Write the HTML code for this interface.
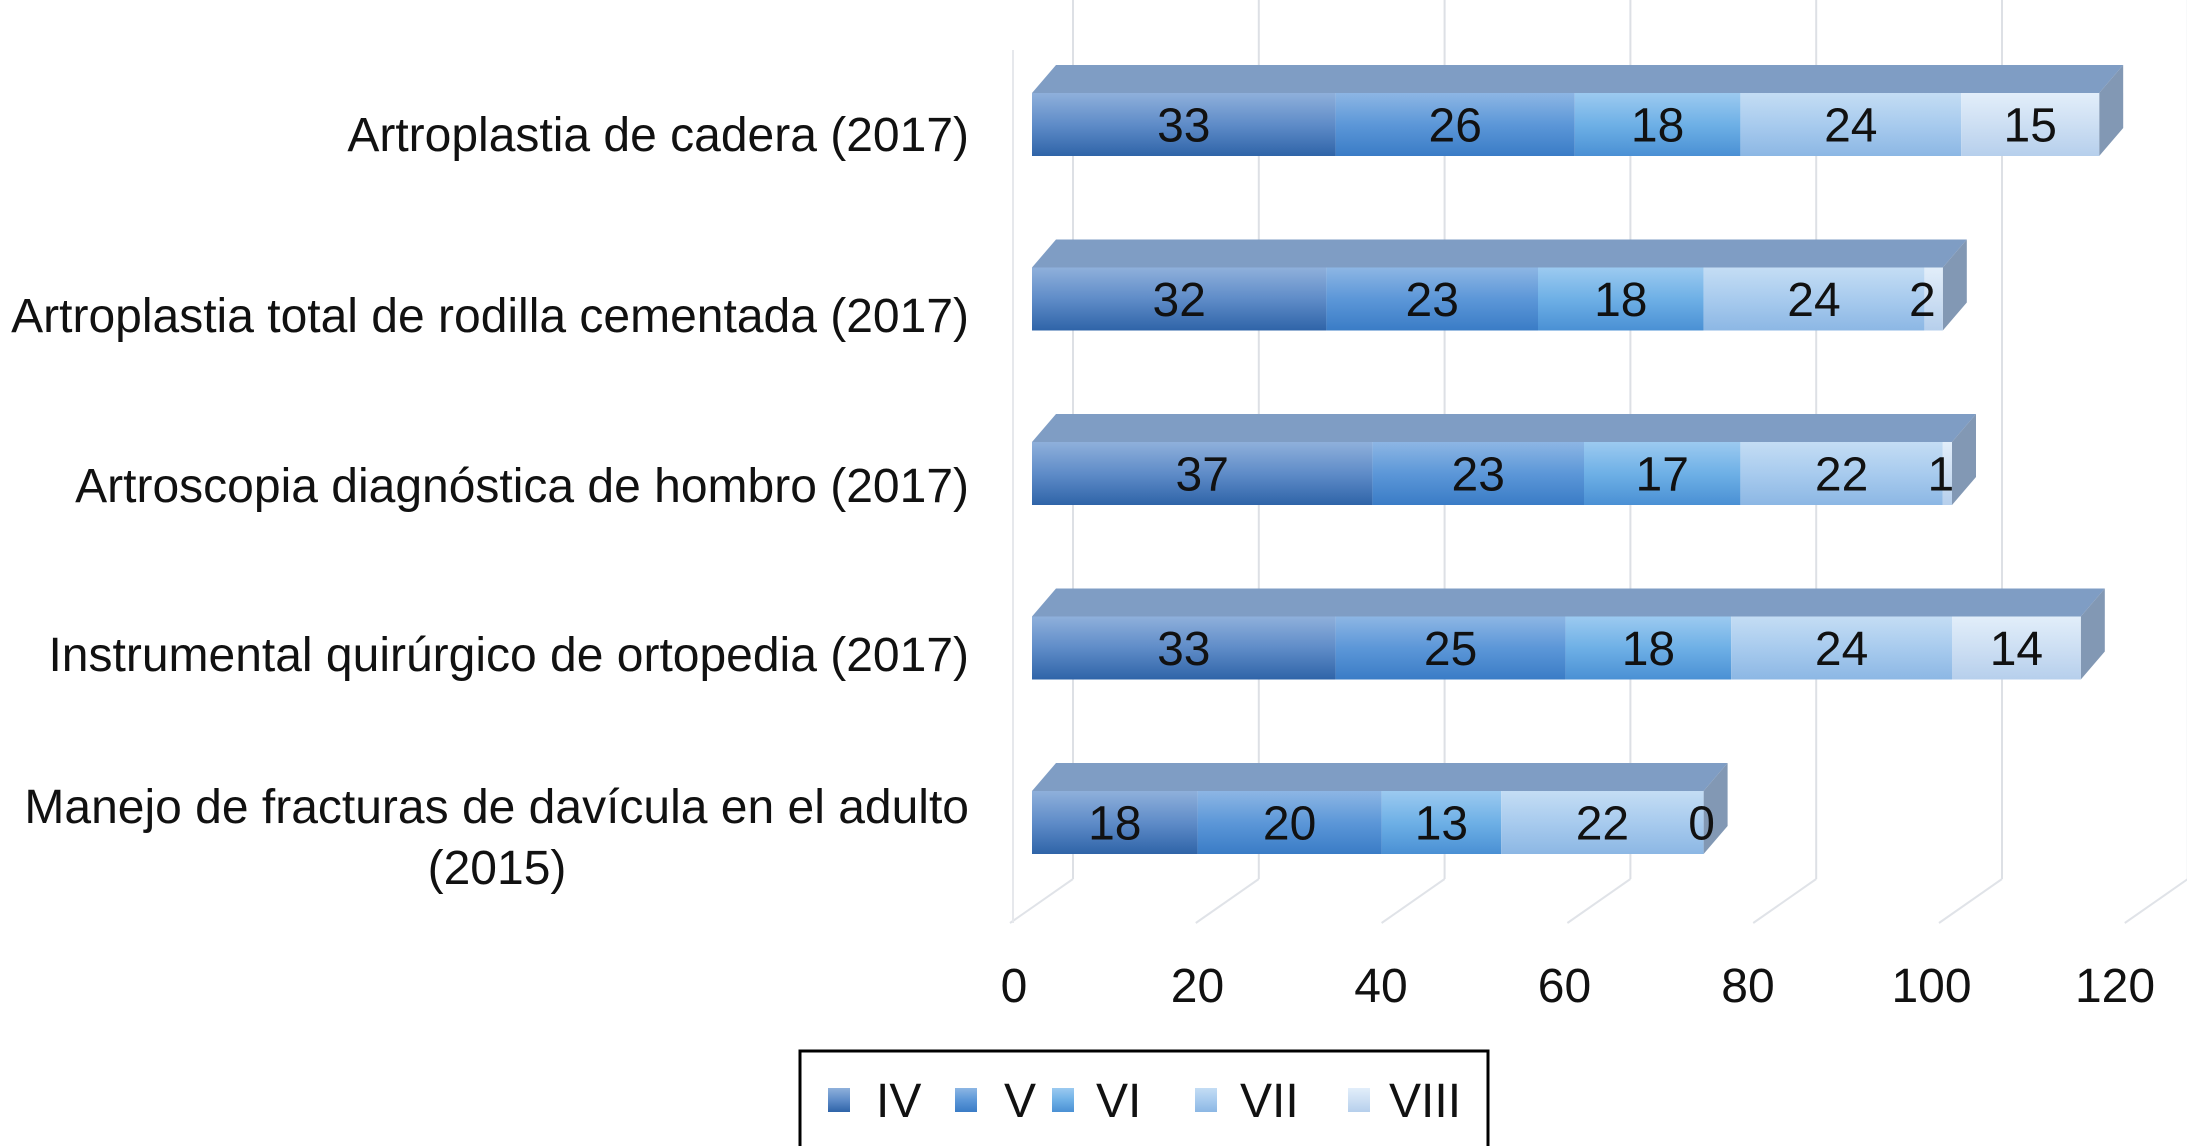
<!DOCTYPE html>
<html><head><meta charset="utf-8">
<style>
html,body{margin:0;padding:0;background:#fff;}
svg{display:block;font-family:"Liberation Sans",Arial,sans-serif;}
</style></head>
<body>
<svg id="chart" width="2187" height="1146" viewBox="0 0 2187 1146">
<defs>
<linearGradient id="g0" x1="0" y1="0" x2="0" y2="1"><stop offset="0" stop-color="#8fb0db"/><stop offset="0.5" stop-color="#5f8cc8"/><stop offset="1" stop-color="#2f64a8"/></linearGradient>
<linearGradient id="g1" x1="0" y1="0" x2="0" y2="1"><stop offset="0" stop-color="#8db6e4"/><stop offset="0.5" stop-color="#5c97d8"/><stop offset="1" stop-color="#3a7cc6"/></linearGradient>
<linearGradient id="g2" x1="0" y1="0" x2="0" y2="1"><stop offset="0" stop-color="#9ccaf0"/><stop offset="0.5" stop-color="#6eb0e6"/><stop offset="1" stop-color="#4a90d4"/></linearGradient>
<linearGradient id="g3" x1="0" y1="0" x2="0" y2="1"><stop offset="0" stop-color="#c4ddf4"/><stop offset="0.5" stop-color="#a8cbee"/><stop offset="1" stop-color="#8cb7e4"/></linearGradient>
<linearGradient id="g4" x1="0" y1="0" x2="0" y2="1"><stop offset="0" stop-color="#e2eefa"/><stop offset="0.5" stop-color="#cddff3"/><stop offset="1" stop-color="#b6cfec"/></linearGradient>
</defs>
<g id="grid"></g>
<g id="bars"></g>
<g id="cats"></g>
<g id="ticks"></g>
<g>
<rect x="800" y="1051" width="688" height="110" fill="#fff" stroke="#000" stroke-width="3"/>
<g id="legend"></g>
</g>
</svg>
<script>
const categories = [
 ["Artroplastia de cadera (2017)"],
 ["Artroplastia total de rodilla cementada (2017)"],
 ["Artroscopia diagnóstica de hombro (2017)"],
 ["Instrumental quirúrgico de ortopedia (2017)"],
 ["Manejo de fracturas de davícula en el adulto","(2015)"]
];
const seriesNames = ["IV","V","VI","VII","VIII"];
const sIV   = [33,32,37,33,18];
const sV    = [26,23,23,25,20];
const sVI   = [18,18,17,18,13];
const sVII  = [24,24,22,24,22];
const sVIII = [15,2,1,14,0];
const tickValues = [0,20,40,60,80,100,120];

const series=[sIV,sV,sVI,sVII,sVIII];
const NS="http://www.w3.org/2000/svg";
function mk(tag,attrs,parent){const e=document.createElementNS(NS,tag);for(const k in attrs)e.setAttribute(k,attrs[k]);parent.appendChild(e);return e;}
const X0=1032, UNIT=9.2, DX=24, DY=28, BH=63, FS=48;
function xs(v){return X0+v*UNIT;}
function yTop(i){return 93+i*174.5;}
function gx(v){return 1073+v*9.29;}
function tx(v){return 1014+v*9.175;}

const grid=document.getElementById('grid');
tickValues.forEach(v=>{
 const l=mk('line',{x1:gx(v),y1:0,x2:gx(v),y2:879,stroke:'#dde0e5','stroke-width':2},grid);
 
 
 const d=mk('line',{x1:gx(v),y1:879,x2:gx(v)-63,y2:923,stroke:'#e0e3e8','stroke-width':2},grid);
 
 
});
const wall=mk('line',{x1:1013,y1:50,x2:1013,y2:923,stroke:'#e6e8ec','stroke-width':2},grid);



const bars=document.getElementById('bars');
categories.forEach((c,i)=>{
 const y=yTop(i);
 let cum=0; const total=series.reduce((a,s)=>a+s[i],0);
 const tp=mk('polygon',{points:`${xs(0)},${y} ${xs(0)+DX},${y-DY} ${xs(total)+DX},${y-DY} ${xs(total)},${y}`,fill:'#7f9dc4'},bars);
 
 
 const sd=mk('polygon',{points:`${xs(total)},${y} ${xs(total)+DX},${y-DY} ${xs(total)+DX},${y+BH-DY} ${xs(total)},${y+BH}`,fill:'#8298b4'},bars);
 
 
 series.forEach((s,k)=>{
  const v=s[i];
  const r=mk('rect',{x:xs(cum),y:y,width:Math.max(v*UNIT,0.01),height:BH,fill:`url(#g${k})`},bars);
  
  
  let cx=xs(cum+v/2);
  if(v<3) cx=xs(cum)-2;
  const t=mk('text',{x:cx,y:y+BH/2+17,'font-size':FS,'text-anchor':'middle',fill:'#111'},bars);
  t.textContent=v;
  
  
  cum+=v;
 });
});

const cats=document.getElementById('cats');
const catBase=[151,332,502,671,823];
categories.forEach((c,i)=>{
 c.forEach((line,j)=>{
  const t=mk('text',{x:j>0?497:969,y:catBase[i]+j*61,'font-size':FS,'text-anchor':j>0?'middle':'end',fill:'#111'},cats);
  t.textContent=line;
  
  
 });
});

const ticks=document.getElementById('ticks');
tickValues.forEach(v=>{
 const t=mk('text',{x:tx(v),y:1002,'font-size':FS,'text-anchor':'middle',fill:'#111'},ticks);
 t.textContent=v;
 
 
});

const legend=document.getElementById('legend');
const lx=[828,955,1052,1195,1348];
const ltx=[876,1004,1096,1240,1389];
seriesNames.forEach((n,k)=>{
 const r=mk('rect',{x:lx[k],y:1088,width:22,height:24,fill:`url(#g${k})`},legend);
 
 
 const t=mk('text',{x:ltx[k],y:1117,'font-size':FS,fill:'#111'},legend);
 t.textContent=n;
 
 
});
</script>
</body></html>
